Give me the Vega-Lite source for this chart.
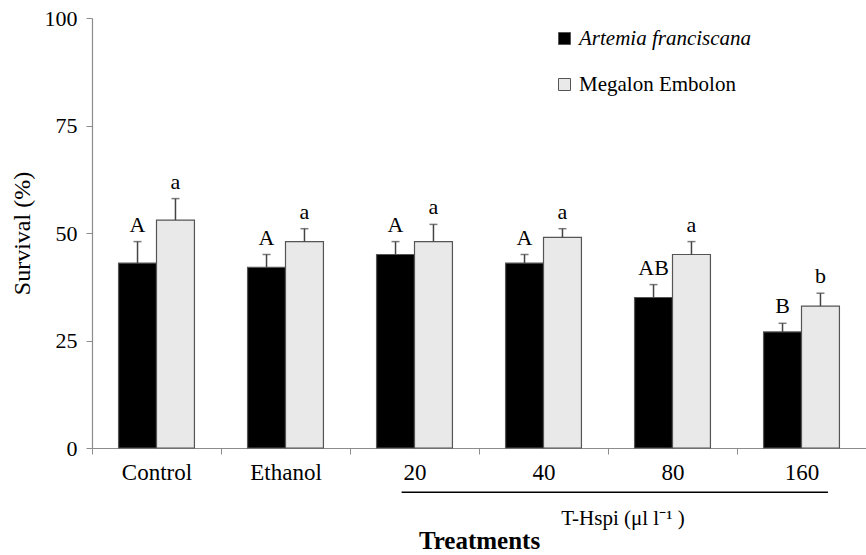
{
  "$schema": "https://vega.github.io/schema/vega-lite/v6.json",
  "width": 774,
  "height": 430,
  "autosize": {"type": "none"},
  "padding": {"left": 92, "top": 18, "right": 0, "bottom": 107},
  "background": "white",
  "config": {"view": {"stroke": null}, "font": "Liberation Serif"},
  "datasets": {
    "bars": [
      {"treatment": "Control", "species": "Artemia franciscana", "survival": 43, "upper": 48, "letter": "A"},
      {"treatment": "Control", "species": "Megalon Embolon", "survival": 53, "upper": 58, "letter": "a"},
      {"treatment": "Ethanol", "species": "Artemia franciscana", "survival": 42, "upper": 45, "letter": "A"},
      {"treatment": "Ethanol", "species": "Megalon Embolon", "survival": 48, "upper": 51, "letter": "a"},
      {"treatment": "20", "species": "Artemia franciscana", "survival": 45, "upper": 48, "letter": "A"},
      {"treatment": "20", "species": "Megalon Embolon", "survival": 48, "upper": 52, "letter": "a"},
      {"treatment": "40", "species": "Artemia franciscana", "survival": 43, "upper": 45, "letter": "A"},
      {"treatment": "40", "species": "Megalon Embolon", "survival": 49, "upper": 51, "letter": "a"},
      {"treatment": "80", "species": "Artemia franciscana", "survival": 35, "upper": 38, "letter": "AB"},
      {"treatment": "80", "species": "Megalon Embolon", "survival": 45, "upper": 48, "letter": "a"},
      {"treatment": "160", "species": "Artemia franciscana", "survival": 27, "upper": 29, "letter": "B"},
      {"treatment": "160", "species": "Megalon Embolon", "survival": 33, "upper": 36, "letter": "b"}
    ],
    "bracket": [
      {"from": "20", "to": "160", "at": "80", "label": "T-Hspi (μl l⁻¹ )"}
    ]
  },
  "layer": [
    {
      "data": {"name": "bars"},
      "mark": {"type": "bar", "stroke": "#555555", "strokeWidth": 1.2},
      "encoding": {
        "x": {
          "field": "treatment", "type": "nominal", "title": "Treatments",
          "sort": ["Control", "Ethanol", "20", "40", "80", "160"],
          "scale": {"domain": ["Control", "Ethanol", "20", "40", "80", "160"], "paddingInner": 0, "paddingOuter": 0},
          "axis": {
            "title": "Treatments", "titleFont": "Liberation Serif", "titleFontSize": 25, "titleFontWeight": "bold", "titleColor": "black",
            "titlePadding": 44, "labelAngle": 0, "labelFont": "Liberation Serif", "labelFontSize": 23, "labelColor": "black",
            "labelPadding": 7, "tickBand": "extent", "tickSize": 6, "tickColor": "#8c8c8c", "domainColor": "#8c8c8c", "domainWidth": 1.2
          }
        },
        "xOffset": {"field": "species", "type": "nominal", "scale": {"paddingInner": 0, "paddingOuter": 0.7}},
        "y": {
          "field": "survival", "type": "quantitative", "title": "Survival (%)",
          "scale": {"domain": [0, 100], "nice": false},
          "axis": {
            "title": "Survival (%)", "titleFont": "Liberation Serif", "titleFontSize": 24, "titleFontWeight": "normal", "titleColor": "black",
            "titlePadding": 10, "values": [0, 25, 50, 75, 100], "grid": false, "labelFont": "Liberation Serif", "labelFontSize": 22,
            "labelColor": "black", "labelPadding": 9, "tickSize": 6, "tickColor": "#8c8c8c", "domainColor": "#8c8c8c", "domainWidth": 1.2
          }
        },
        "color": {
          "field": "species", "type": "nominal",
          "scale": {"domain": ["Artemia franciscana", "Megalon Embolon"], "range": ["#000000", "#e9e9e9"]},
          "legend": {
            "title": null, "orient": "none", "legendX": 462, "legendY": 10,
            "symbolType": "square", "symbolSize": 144, "symbolStrokeColor": "#555555", "symbolStrokeWidth": 1,
            "labelFont": "Liberation Serif", "labelFontSize": 21, "labelColor": "black", "labelOffset": 4, "rowPadding": 24, "labelLimit": 400,
            "encode": {"labels": {"update": {"fontStyle": {"signal": "datum.value === 'Artemia franciscana' ? 'italic' : 'normal'"}}}}
          }
        }
      }
    },
    {
      "data": {"name": "bars"},
      "mark": {"type": "rule", "color": "#444444", "strokeWidth": 1.5},
      "encoding": {
        "x": {"field": "treatment", "type": "nominal", "title": "Treatments"},
        "xOffset": {"field": "species", "type": "nominal"},
        "y": {"field": "survival", "type": "quantitative", "title": "Survival (%)"},
        "y2": {"field": "upper"}
      }
    },
    {
      "data": {"name": "bars"},
      "mark": {"type": "tick", "color": "#444444", "thickness": 1.5, "size": 8},
      "encoding": {
        "x": {"field": "treatment", "type": "nominal", "title": "Treatments"},
        "xOffset": {"field": "species", "type": "nominal"},
        "y": {"field": "upper", "type": "quantitative", "title": "Survival (%)"}
      }
    },
    {
      "data": {"name": "bars"},
      "mark": {"type": "text", "font": "Liberation Serif", "fontSize": 22, "color": "black", "baseline": "alphabetic", "dy": -10},
      "encoding": {
        "x": {"field": "treatment", "type": "nominal", "title": "Treatments"},
        "xOffset": {"field": "species", "type": "nominal"},
        "y": {"field": "upper", "type": "quantitative", "title": "Survival (%)"},
        "text": {"field": "letter"}
      }
    },
    {
      "data": {"name": "bracket"},
      "mark": {"type": "rule", "color": "black", "strokeWidth": 1.5, "clip": false},
      "encoding": {
        "x": {"field": "from", "type": "nominal", "bandPosition": 0.4, "title": "Treatments"},
        "x2": {"field": "to", "bandPosition": 0.705},
        "y": {"datum": -10.3, "type": "quantitative", "title": "Survival (%)"}
      }
    },
    {
      "data": {"name": "bracket"},
      "mark": {"type": "text", "font": "Liberation Serif", "fontSize": 21, "color": "black", "baseline": "middle", "align": "center", "clip": false},
      "encoding": {
        "x": {"field": "at", "type": "nominal", "bandPosition": 0.116, "title": "Treatments"},
        "y": {"datum": -16.4, "type": "quantitative", "title": "Survival (%)"},
        "text": {"field": "label"}
      }
    }
  ]
}
